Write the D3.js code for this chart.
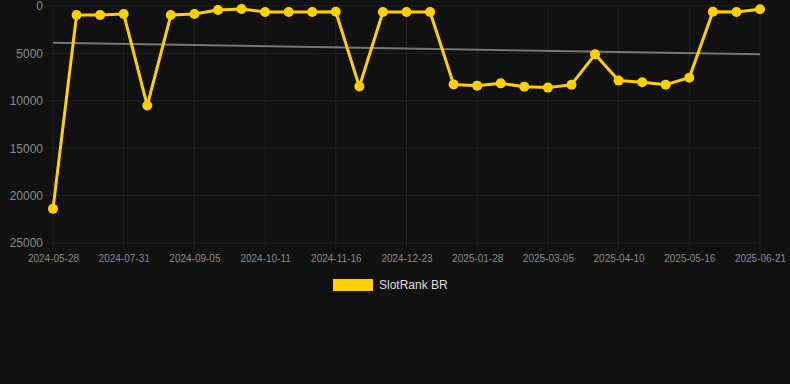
<!DOCTYPE html>
<html>
<head>
<meta charset="utf-8">
<script src="https://cdn.jsdelivr.net/npm/d3@7"></script>
<style>
  html, body { margin: 0; padding: 0; background: #111111; }
  svg { display: block; }
</style>
</head>
<body>
<svg id="chart" width="790" height="384"></svg>
<script>
// categories (one point per date, every third one is labelled)
const dates = [
  "2024-05-28", "2024-06-18", "2024-07-09", "2024-07-31", "2024-08-12", "2024-08-24",
  "2024-09-05", "2024-09-17", "2024-09-29", "2024-10-11", "2024-10-23", "2024-11-04",
  "2024-11-16", "2024-11-28", "2024-12-11", "2024-12-23", "2025-01-04", "2025-01-16",
  "2025-01-28", "2025-02-09", "2025-02-21", "2025-03-05", "2025-03-17", "2025-03-29",
  "2025-04-10", "2025-04-22", "2025-05-04", "2025-05-16", "2025-05-28", "2025-06-09",
  "2025-06-21"
]
const rankBR = [
  21400, 950, 950, 840, 10500, 950,
  850, 420, 320, 630, 630, 630,
  600, 8500, 630, 630, 630, 8270,
  8400, 8160, 8510, 8610, 8300, 5100,
  7870, 8050, 8300, 7560, 600, 630,
  350
]
const trendValues = [3870, 5100]   // start / end of the grey trend line
const yTicks = [0, 5000, 10000, 15000, 20000, 25000]

const seriesName = "SlotRank BR"
const lineColor = "#ffd000"
const gridColor = "#232323"
const tickColor = "#8a8a8a"

const svg = d3.select("#chart")
const plotLeft = 53, plotRight = 760, plotTop = 6, plotBottom = 243

const x = d3.scalePoint()
  .domain(dates)
  .range([plotLeft, plotRight])

const y = d3.scaleLinear()
  .domain([0, 25000])
  .range([plotTop, plotBottom])

// horizontal grid
svg.append("g")
  .selectAll("line")
  .data(yTicks)
  .enter()
  .append("line")
  .attr("x1", plotLeft - 8)
  .attr("x2", plotRight)
  .attr("y1", d => y(d))
  .attr("y2", d => y(d))
  .attr("stroke", gridColor)
  .attr("stroke-width", 1)

// vertical grid at labelled dates
const labelled = dates.filter((d, i) => i % 3 === 0)
svg.append("g")
  .selectAll("line")
  .data(labelled)
  .enter()
  .append("line")
  .attr("x1", d => x(d))
  .attr("x2", d => x(d))
  .attr("y1", plotTop)
  .attr("y2", plotBottom + 6)
  .attr("stroke", gridColor)
  .attr("stroke-width", 1)

// y axis labels
const yAxis = d3.axisLeft(y).tickValues(yTicks).tickSize(0).tickPadding(0).tickFormat(d => d)
const gy = svg.append("g")
  .attr("transform", "translate(43,0)")
  .call(yAxis)
gy.select(".domain").remove()
gy.selectAll("text")
  .attr("fill", tickColor)
  .attr("font-family", "Liberation Sans, Arial, sans-serif")
  .attr("font-size", "12px")

// x axis labels
const xAxis = d3.axisBottom(x).tickValues(labelled).tickSize(0).tickPadding(0)
const gx = svg.append("g")
  .attr("transform", "translate(0," + (plotBottom + 12) + ")")
  .call(xAxis)
gx.select(".domain").remove()
gx.selectAll("text")
  .attr("fill", tickColor)
  .attr("font-family", "Liberation Sans, Arial, sans-serif")
  .attr("font-size", "10px")

// trend line
svg.append("line")
  .attr("x1", x(dates[0]))
  .attr("x2", x(dates[dates.length - 1]))
  .attr("y1", y(trendValues[0]))
  .attr("y2", y(trendValues[1]))
  .attr("stroke", "#777777")
  .attr("stroke-width", 2)

// main series
const line = d3.line()
  .x((d, i) => x(dates[i]))
  .y(d => y(d))

svg.append("path")
  .datum(rankBR)
  .attr("d", line)
  .attr("fill", "none")
  .attr("stroke", lineColor)
  .attr("stroke-width", 3)
  .attr("stroke-linejoin", "round")

svg.append("g")
  .selectAll("circle")
  .data(rankBR)
  .enter()
  .append("circle")
  .attr("cx", (d, i) => x(dates[i]))
  .attr("cy", d => y(d))
  .attr("r", 5)
  .attr("fill", lineColor)

// legend
const legend = svg.append("g").attr("transform", "translate(333,279)")
legend.append("rect")
  .attr("width", 40)
  .attr("height", 12)
  .attr("fill", lineColor)
legend.append("text")
  .attr("x", 46)
  .attr("y", 10)
  .attr("fill", "#dddddd")
  .attr("font-family", "Liberation Sans, Arial, sans-serif")
  .attr("font-size", "12px")
  .text(seriesName)
</script>
</body>
</html>
